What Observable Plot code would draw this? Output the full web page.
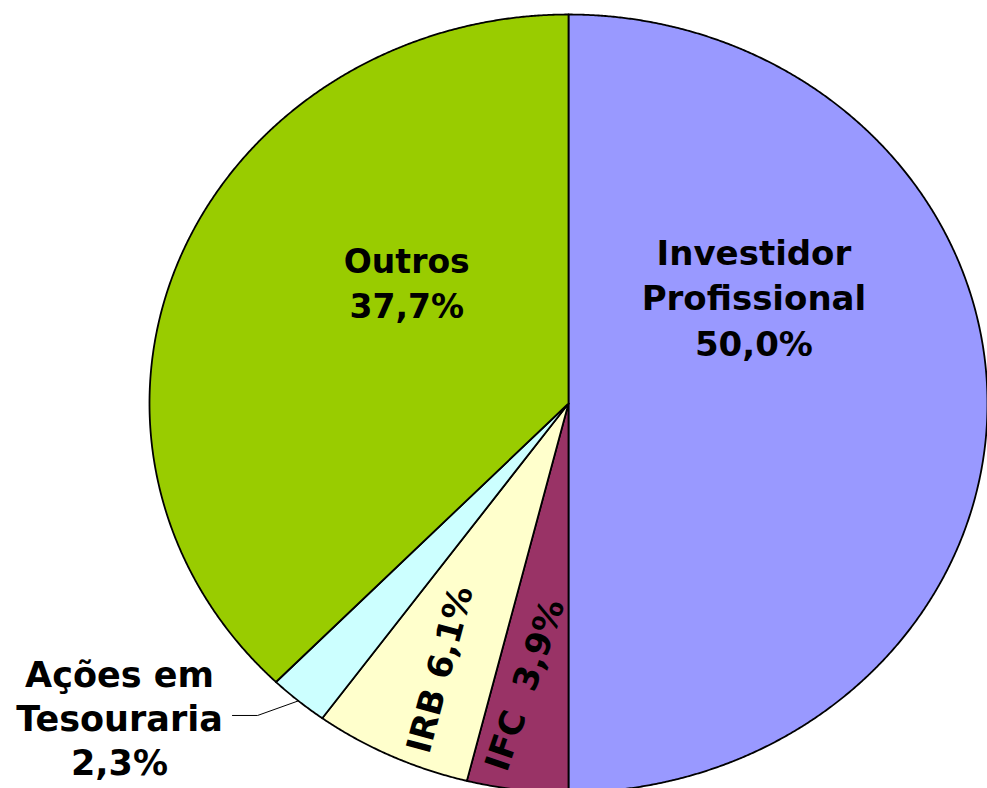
<!DOCTYPE html>
<html><head><meta charset="utf-8">
<script src="https://cdn.jsdelivr.net/npm/d3@7"></script>
<script src="https://cdn.jsdelivr.net/npm/@observablehq/plot@0.6"></script>
<style>html,body{margin:0;padding:0;background:#fff;overflow:hidden;} svg{display:block;}</style>
</head><body><div id="chart"></div>
<script>
const categories = ["Investidor Profissional", "IFC", "IRB", "Ações em Tesouraria", "Outros"];
const values = [50.0, 3.9, 6.1, 2.3, 37.7];
const colors = ["#9999FF", "#993366", "#FFFFCC", "#CCFFFF", "#99CC00"];
const labelTexts = ["Investidor\nProfissional\n50,0%", "IFC\u00a0 3,9%", "IRB 6,1%", "Ações em\nTesouraria\n2,3%", "Outros\n37,7%"];

const arcs = d3.pie().sort(null).value(d => d)(values);
const slicePts = [];
arcs.forEach((a, i) => {
  slicePts.push({name: categories[i], x: 0, y: 0});
  const n = Math.max(2, Math.ceil((a.endAngle - a.startAngle) / 0.004));
  for (let k = 0; k <= n; k++) {
    const t = a.startAngle + (a.endAngle - a.startAngle) * k / n;
    slicePts.push({name: categories[i], x: Math.sin(t), y: Math.cos(t)});
  }
});

// leader line for "Ações em Tesouraria"
const acoes = arcs[3];
const midA = (acoes.startAngle + acoes.endAngle) / 2;
const leader = [
  {x: Math.sin(midA), y: Math.cos(midA)},
  {x: -0.742, y: -0.802},
  {x: -0.802, y: -0.802}
];

const font = {fontFamily: "DejaVu Sans, Verdana, sans-serif", fontWeight: "bold", fill: "black"};
function label(i, x, y, opts) {
  return Plot.text([labelTexts[i]], {x: () => x, y: () => y, text: d => d, textAnchor: "middle", lineAnchor: "middle", ...font, ...opts});
}

const chart = Plot.plot({
  width: 987,
  height: 788,
  margin: 0,
  x: {domain: [-1, 1], range: [149, 987], axis: null},
  y: {domain: [-1, 1], range: [792, 14], axis: null},
  color: {domain: categories, range: colors},
  marks: [
    Plot.line(slicePts, {x: "x", y: "y", z: "name", fill: "name", stroke: "black", strokeWidth: 1.8, curve: "linear-closed", strokeLinejoin: "round"}),
    Plot.line(leader, {x: "x", y: "y", stroke: "black", strokeWidth: 1}),
    label(0, 0.4425, 0.277, {fontSize: 34, lineHeight: 1.35, letterSpacing: 1}),
    label(4, -0.386, 0.3136, {fontSize: 33, lineHeight: 1.36, letterSpacing: 0.5}),
    label(3, -1.0716, -0.8046, {fontSize: 35, lineHeight: 1.26}),
    label(2, -0.3055, -0.684, {fontSize: 34, rotate: -75, letterSpacing: 0.5}),
    label(1, -0.1026, -0.724, {fontSize: 34, rotate: -71, letterSpacing: 0.5})
  ]
});
document.getElementById("chart").appendChild(chart);
</script>
</body></html>
